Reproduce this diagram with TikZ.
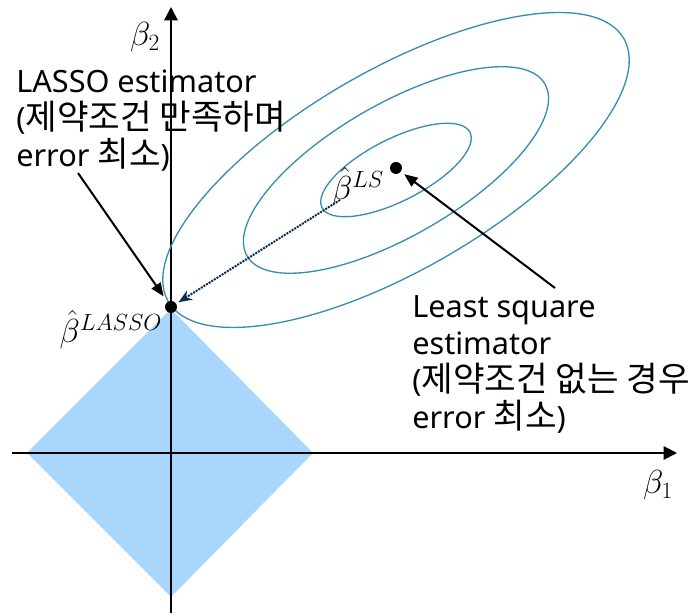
\RequirePackage{fix-cm}
\documentclass[tikz,border=0pt]{standalone}
\usepackage{fontspec}
\setmainfont{Noto Sans}
\newfontfamily\kr[Scale=1.12]{Noto Sans CJK KR}
\usetikzlibrary{arrows.meta}
\definecolor{contour}{RGB}{55,142,176}
\definecolor{region}{RGB}{169,214,252}
\definecolor{navy}{RGB}{12,44,78}
\begin{document}
\begin{tikzpicture}[x=37.5pt, y=37.5pt,
    axis/.style={line width=1.5pt, -{Triangle[length=10pt, width=10pt]}},
    level/.style={line width=1pt, color=contour},
    pointer/.style={line width=1.5pt, -{Triangle[length=10pt, width=8pt]}},
    moveto/.style={line width=1.5pt, color=navy, dash pattern=on 1.5pt off 0.8pt, -{Stealth[length=10pt, width=8pt]}},
    dot/.style={circle, fill=black, inner sep=0pt, minimum size=9pt},
    note/.style={inner sep=0pt, align=left, anchor=north west, font=\fontsize{23pt}{27.75pt}\selectfont},
    lbl/.style={font=\fontsize{25pt}{29pt}\selectfont}]
    \useasboundingbox (-3.42,-3.26) rectangle (10.52,9.06);
    % constraint region |b1|+|b2| <= t
    \fill[color=region] (-2.88,0) -- (0,2.88) -- (2.84,0) -- (0,-2.88) -- cycle;
    % axes
    \draw[axis] (-3.18,0) -- (10.12,0);
    \draw[axis] (0,-3.2) -- (0,8.92);
    \node[lbl] (b1) at (9.74,-0.64) {$\beta_1$};
    \node[lbl] (b2) at (-0.52,8.32) {$\beta_2$};
    % error contours around the LS estimate
    \draw[level, rotate around={30:(4.5,5.66)}] (4.5,5.66) ellipse [x radius=5.26, y radius=2.0];
    \draw[level, rotate around={30:(4.5,5.66)}] (4.5,5.66) ellipse [x radius=3.44, y radius=1.32];
    \draw[level, rotate around={27:(4.5,5.66)}] (4.5,5.66) ellipse [x radius=1.66, y radius=0.62];
    % estimates
    \node[dot] (lassodot) at (0,2.92) {};
    \node[dot] (lsdot) at (4.5,5.7) {};
    \node[lbl] (lslabel) at (3.74,5.32) {$\hat{\beta}^{LS}$};
    \node[lbl] (lassolabel) at (-1.2,2.46) {$\hat{\beta}^{LASSO}$};
    % explanations
    \node[note] (lassotext) at (-3.10,7.67) {LASSO estimator\\({\kr 제약조건 만족하며}\\error {\kr 최소})};
    \node[note] (lstext) at (4.82,3.15) {Least square\\estimator\\({\kr 제약조건 없는 경우}\\error {\kr 최소})};
    \coordinate (lassotail) at (-1.86,5.6);
    \coordinate (lstail) at (7.68,3.3);
    \coordinate (shifttail) at (3.38,5.06);
    \draw[pointer, shorten >=5pt] (lassotail) -- (lassodot);
    \draw[pointer, shorten >=3pt] (lstail) -- (lsdot);
    \draw[moveto, shorten >=2pt] (shifttail) -- (lassodot);
\end{tikzpicture}
\end{document}
